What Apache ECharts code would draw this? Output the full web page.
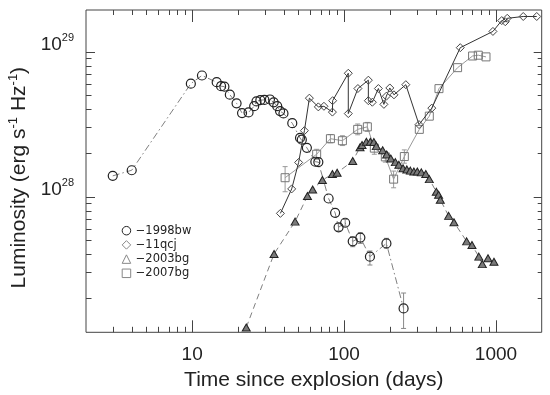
<!DOCTYPE html>
<html><head><meta charset="utf-8">
<script src="https://cdn.jsdelivr.net/npm/echarts@6/dist/echarts.min.js"></script>
<style>html,body{margin:0;padding:0;background:#fff}#c{width:550px;height:395px}</style>
</head><body><div id="c"></div>
<script>
// ---- data (time in days, luminosity in erg s^-1 Hz^-1) ----
const t1998bw = [3.0, 4.0, 9.8, 11.6, 14.5, 15.5, 16.3, 17.7, 19.6, 21.3, 23.5, 25.6, 26.5, 28.1, 29.9, 32.5, 34.4, 36.3, 37.9, 39.9, 45.6, 51.3, 52.7, 56.9, 64.7, 67.7, 79.1, 87.3, 92.0, 101.7, 114, 128, 148, 190, 246.5];
const l1998bw = [1.39e28, 1.52e28, 6.02e28, 6.85e28, 6.16e28, 5.78e28, 5.74e28, 5.05e28, 4.40e28, 3.77e28, 3.81e28, 4.21e28, 4.54e28, 4.63e28, 4.65e28, 4.68e28, 4.47e28, 4.21e28, 3.89e28, 3.75e28, 3.21e28, 2.54e28, 2.47e28, 2.17e28, 1.74e28, 1.73e28, 9.7e27, 7.72e27, 6.14e27, 6.6e27, 4.91e27, 5.21e27, 3.85e27, 4.75e27, 1.69e27];
const errT1998bw = [92.0, 101.7, 114, 128, 148, 190, 246.5];
const errLo1998bw = [5.8e27, 6.25e27, 4.51e27, 4.75e27, 3.37e27, 4.4e27, 1.23e27];
const errHi1998bw = [6.5e27, 6.95e27, 5.23e27, 5.63e27, 4.21e27, 5.15e27, 2.16e27];

const t11qcj = [38.1, 45.2, 50.2, 54.8, 59.1, 67.7, 73.7, 83.8, 84.1, 106.6, 106.6, 123.3, 144.5, 144.5, 153.5, 168.2, 182.9, 189.8, 200, 213, 255, 311.5, 378, 582, 955, 1091, 1151, 1186, 1512, 1855];
const l11qcj = [7.66e27, 1.13e28, 1.72e28, 2.85e28, 4.78e28, 4.16e28, 4.2e28, 3.83e28, 4.59e28, 7.1e28, 3.74e28, 5.57e28, 6.36e28, 4.59e28, 4.48e28, 5.57e28, 4.33e28, 4.93e28, 5.62e28, 5.04e28, 5.92e28, 3.14e28, 4.08e28, 1.066e29, 1.38e29, 1.64e29, 1.61e29, 1.70e29, 1.75e29, 1.75e29];

const t2003bg = [22.7, 34.6, 47.6, 57.4, 62.1, 72, 83.8, 90, 114, 127.4, 131.3, 140.2, 148.9, 157, 163, 179.5, 190.7, 203, 217.6, 229.4, 244.4, 259, 273, 288, 303.5, 322.6, 345, 364, 404.7, 419, 430, 488, 529, 641, 695, 771, 813, 886, 970];
const l2003bg = [1.25e27, 4.02e27, 6.72e27, 1.01e28, 1.12e28, 1.30e28, 1.43e28, 1.46e28, 1.76e28, 2.19e28, 2.27e28, 2.39e28, 2.39e28, 2.38e28, 2.23e28, 2.09e28, 1.95e28, 1.83e28, 1.73e28, 1.66e28, 1.57e28, 1.54e28, 1.51e28, 1.49e28, 1.49e28, 1.47e28, 1.43e28, 1.32e28, 1.08e28, 1.03e28, 9.5e27, 7.36e27, 6.65e27, 4.91e27, 4.63e27, 3.85e27, 3.42e27, 3.75e27, 3.55e27];

const t2007bg = [40.9, 66.0, 81.3, 97.5, 122.9, 142.3, 158.2, 186.9, 211.9, 249.3, 312.9, 364, 421.5, 558.9, 701.5, 764.7, 859.6];
const l2007bg = [1.35e28, 1.96e28, 2.51e28, 2.43e28, 2.91e28, 3.03e28, 2.16e28, 1.88e28, 1.32e28, 1.89e28, 2.91e28, 3.59e28, 5.56e28, 7.76e28, 9.34e28, 9.46e28, 9.21e28];
const errT2007bg = [40.9, 66.0, 81.3, 97.5, 122.9, 142.3, 158.2, 186.9, 211.9, 249.3];
const errLo2007bg = [1.08e28, 1.81e28, 2.35e28, 2.25e28, 2.67e28, 2.82e28, 1.96e28, 1.73e28, 1.15e28, 1.70e28];
const errHi2007bg = [1.61e28, 2.12e28, 2.68e28, 2.63e28, 3.17e28, 3.25e28, 2.38e28, 2.04e28, 1.50e28, 2.10e28];

const seriesNames = ['1998bw', '11qcj', '2003bg', '2007bg'];

// ---- axis ticks / labels ----
const xMajor = [10, 100, 1000];
const xMinor = [3, 4, 5, 6, 7, 8, 9, 20, 30, 40, 50, 60, 70, 80, 90, 200, 300, 400, 500, 600, 700, 800, 900];
const yMajor = [1e28, 1e29];
const yMinor = [2e27, 3e27, 4e27, 5e27, 6e27, 7e27, 8e27, 9e27, 2e28, 3e28, 4e28, 5e28, 6e28, 7e28, 8e28, 9e28];
const X_MIN = 2, X_MAX = 2000, Y_MIN = 1.157e27, Y_MAX = 1.94e29;

const FONT = 'Liberation Sans';
const AX = '#444', TXT = '#222';

function zip(a, b) { return a.map((v, i) => [v, b[i]]); }
function zip3(a, b, c) { return a.map((v, i) => [v, b[i], c[i]]); }
function ok(n) { return typeof n === 'number' && isFinite(n); }

function errBar(color) {
  return function (params, api) {
    const x = api.value(0);
    const lo = api.coord([x, api.value(1)]);
    const hi = api.coord([x, api.value(2)]);
    const w = 2.5;
    const st = { stroke: color, lineWidth: 1 };
    return { type: 'group', children: [
      { type: 'line', shape: { x1: lo[0], y1: lo[1], x2: hi[0], y2: hi[1] }, style: st },
      { type: 'line', shape: { x1: lo[0] - w, y1: lo[1], x2: lo[0] + w, y2: lo[1] }, style: st },
      { type: 'line', shape: { x1: hi[0] - w, y1: hi[1], x2: hi[0] + w, y2: hi[1] }, style: st }
    ] };
  };
}

// frame edges: from the grid rect, or extrapolated from interior scale points
function frameEdges(params, api) {
  const cs = params.coordSys || {};
  if (ok(cs.x) && ok(cs.y) && ok(cs.width) && ok(cs.height)) {
    return { l: cs.x, r: cs.x + cs.width, t: cs.y, b: cs.y + cs.height };
  }
  const a = api.coord([xMajor[0], yMajor[0]]);
  const c = api.coord([xMajor[1], yMajor[1]]);
  const dx = c[0] - a[0], dy = a[1] - c[1];
  return {
    l: a[0] - (1 - Math.log10(X_MIN)) * dx,
    r: a[0] + (Math.log10(X_MAX) - 1) * dx,
    b: a[1] + (28 - Math.log10(Y_MIN)) * dy,
    t: a[1] - (Math.log10(Y_MAX) - 28) * dy
  };
}

// tick marks on both sides of the frame, placed through the axis scales
function tickRender(dir, lenA, lenB) {
  return function (params, api) {
    const st = { stroke: AX, lineWidth: 1 };
    const e = frameEdges(params, api);
    if (dir === 'x') {
      const p = api.coord([api.value(0), api.value(1)]);
      const x = Math.round(p[0]) + 0.5;
      return { type: 'group', children: [
        { type: 'line', shape: { x1: x, y1: e.b, x2: x, y2: e.b - lenA }, style: st },
        { type: 'line', shape: { x1: x, y1: e.t, x2: x, y2: e.t + lenB }, style: st }
      ] };
    }
    const p = api.coord([api.value(0), api.value(1)]);
    const y = Math.round(p[1]) + 0.5;
    return { type: 'group', children: [
      { type: 'line', shape: { x1: e.l, y1: y, x2: e.l + lenA, y2: y }, style: st },
      { type: 'line', shape: { x1: e.r, y1: y, x2: e.r - lenB, y2: y }, style: st }
    ] };
  };
}
function tickSeries(values, dir, lenA, lenB) {
  return {
    type: 'custom', silent: true, xAxisIndex: 0, yAxisIndex: 0, z: 1,
    dimensions: ['t', 'lo', 'hi'], encode: { x: 't', y: ['lo', 'hi'] },
    data: values.map(v => dir === 'x' ? [v, yMajor[0], yMajor[0]] : [xMajor[0], v, v]),
    renderItem: tickRender(dir, lenA, lenB)
  };
}

const chart = echarts.init(document.getElementById('c'), null, { renderer: 'canvas' });
chart.setOption({
  animation: false,
  backgroundColor: '#fff',
  grid: { left: 86, right: 8.3, top: 10, bottom: 62.7, show: true, borderColor: AX, borderWidth: 1,
          containLabel: false, outerBoundsMode: 'none' },
  legend: {
    orient: 'vertical', left: 121.7, top: 223.7, padding: 0, itemWidth: 8.5, itemHeight: 8.5, itemGap: 0.2,
    selectedMode: false,
    textStyle: { fontFamily: 'DejaVu Sans', fontSize: 11.5, color: TXT, lineHeight: 14 },
    formatter: n => '\u2212' + n,
    data: [
      { name: seriesNames[0], icon: 'circle', itemStyle: { color: 'rgba(0,0,0,0)', borderColor: '#222', borderWidth: 1 } },
      { name: seriesNames[1], icon: 'diamond', itemStyle: { color: 'rgba(0,0,0,0)', borderColor: '#888', borderWidth: 1 } },
      { name: seriesNames[2], icon: 'triangle', itemStyle: { color: 'rgba(0,0,0,0)', borderColor: '#888', borderWidth: 1 } },
      { name: seriesNames[3], icon: 'rect', itemStyle: { color: 'rgba(0,0,0,0)', borderColor: '#888', borderWidth: 1 } }
    ]
  },
  xAxis: [{
    type: 'log', logBase: 10, min: X_MIN, max: X_MAX, position: 'bottom',
    splitLine: { show: false }, axisLine: { show: false }, axisTick: { show: false },
    name: 'Time since explosion (days)', nameLocation: 'middle', nameGap: 37,
    nameTextStyle: { fontFamily: FONT, fontSize: 21, color: TXT },
    axisLabel: { show: true, customValues: xMajor, margin: 13, fontFamily: FONT, fontSize: 19, color: TXT,
                 formatter: v => String(Math.round(v)) }
  }],
  yAxis: [{
    type: 'log', logBase: 10, min: Y_MIN, max: Y_MAX, position: 'left',
    splitLine: { show: false }, axisLine: { show: false }, axisTick: { show: false },
    name: 'Luminosity (erg s{s|-1} Hz{s|-1})', nameLocation: 'middle', nameGap: 49,
    nameTextStyle: { fontFamily: FONT, fontSize: 21, color: TXT, padding: [0, 13, 0, 0],
                     rich: { s: { fontFamily: FONT, fontSize: 13, color: TXT, padding: [0, 0, 12, 0] } } },
    axisLabel: { show: true, customValues: yMajor, margin: 12, color: TXT,
                 formatter: v => '{b|10}{s|' + Math.round(Math.log10(v)) + '}',
                 rich: { b: { fontFamily: FONT, fontSize: 19, color: TXT, padding: [0, 0, 14, 0] },
                         s: { fontFamily: FONT, fontSize: 11, color: TXT, padding: [0, 0, 28, 0] } } }
  }],
  series: [
    { type: 'custom', silent: true, xAxisIndex: 0, yAxisIndex: 0, z: 1,
      dimensions: ['t', 'lo', 'hi'], encode: { x: 't', y: ['lo', 'hi'] },
      data: zip3(errT2007bg, errLo2007bg, errHi2007bg), renderItem: errBar('#999') },
    { type: 'custom', silent: true, xAxisIndex: 0, yAxisIndex: 0, z: 1,
      dimensions: ['t', 'lo', 'hi'], encode: { x: 't', y: ['lo', 'hi'] },
      data: zip3(errT1998bw, errLo1998bw, errHi1998bw), renderItem: errBar('#888') },
    tickSeries(xMajor, 'x', 12, 12),
    tickSeries(xMinor, 'x', 5.5, 5),
    tickSeries(yMajor, 'y', 9, 8),
    tickSeries(yMinor, 'y', 5.5, 4),
    { name: seriesNames[3], type: 'line', data: zip(t2007bg, l2007bg), z: 2,
      symbol: 'rect', symbolSize: 8, showAllSymbol: true, emphasis: { disabled: true },
      lineStyle: { color: '#999', width: 1 },
      itemStyle: { color: 'rgba(0,0,0,0)', borderColor: '#777', borderWidth: 1 } },
    { name: seriesNames[0], type: 'line', data: zip(t1998bw, l1998bw), z: 3,
      symbol: 'circle', symbolSize: 9, showAllSymbol: true, emphasis: { disabled: true },
      lineStyle: { color: '#808080', width: 1, type: [7, 3, 1.5, 3] },
      itemStyle: { color: 'rgba(0,0,0,0)', borderColor: '#222', borderWidth: 1.2 } },
    { name: seriesNames[1], type: 'line', data: zip(t11qcj, l11qcj), z: 4,
      symbol: 'diamond', symbolSize: 8, showAllSymbol: true, emphasis: { disabled: true },
      lineStyle: { color: '#333', width: 1 },
      itemStyle: { color: 'rgba(0,0,0,0)', borderColor: '#444', borderWidth: 1 } },
    { name: seriesNames[2], type: 'line', data: zip(t2003bg, l2003bg), z: 5,
      symbol: 'triangle', symbolSize: [8, 7], showAllSymbol: true, emphasis: { disabled: true },
      lineStyle: { color: '#808080', width: 1, type: [6, 4] },
      itemStyle: { color: '#7a7a7a', borderColor: '#222', borderWidth: 1 } }
  ]
});
</script></body></html>
